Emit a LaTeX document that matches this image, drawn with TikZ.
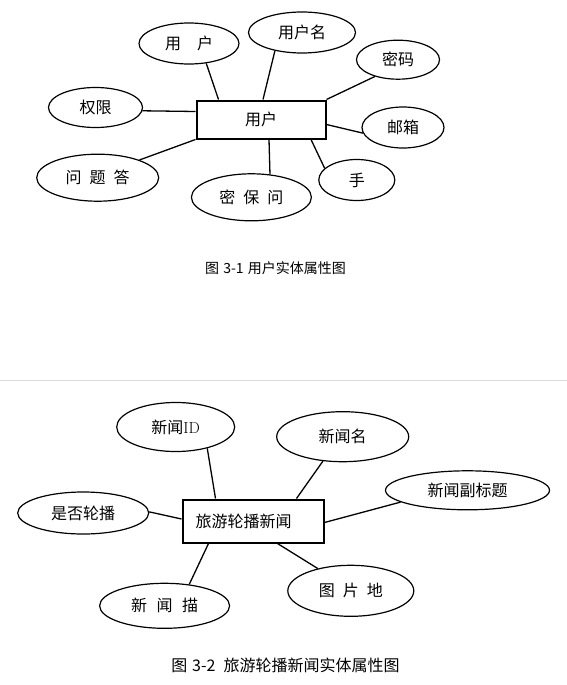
\documentclass[tikz,border=0pt]{standalone}
\usepackage{fontspec}
\usepackage{xcolor}
\usepackage{tikz}
\usetikzlibrary{calc, shapes.geometric, positioning}
\newfontfamily\cjk{Noto Sans CJK SC}
\definecolor{erInk}{HTML}{000000}
\definecolor{erRule}{HTML}{DCDCDC}

\tikzset{
  attrib/.style={ellipse, draw=erInk, line width=1.2pt, inner sep=0pt,
                 font=\cjk\fontsize{16}{19}\selectfont},
  entity/.style={rectangle, draw=erInk, line width=2pt, inner sep=0pt,
                 font=\cjk\fontsize{16}{19}\selectfont},
  link/.style={draw=erInk, line width=1.3pt},
  figcap/.style={font=\cjk\fontsize{14}{16}\selectfont, inner sep=0pt}
}

\begin{document}
\begin{tikzpicture}[x=1pt, y=-1pt]
        \useasboundingbox (0,0) rectangle (567,685);

        % user entity
        \node[entity, minimum width=129pt, minimum height=38pt] (user) at (261,119.5) {用户};
        \node[attrib, minimum width=100pt, minimum height=41pt] (uacc) at (189,43.5) {用\hspace{1em}户};
        \node[attrib, minimum width=107pt, minimum height=41pt] (uname) at (302,32.5) {用户名};
        \node[attrib, minimum width=83pt, minimum height=39pt] (pwd) at (398,59.7) {密码};
        \node[attrib, minimum width=94pt, minimum height=40pt] (perm) at (95.5,107.5) {权限};
        \node[attrib, minimum width=82pt, minimum height=41pt] (mail) at (403,127.5) {邮箱};
        \node[attrib, minimum width=122pt, minimum height=47pt] (answer) at (97.7,177.7) {问\hspace{.5em}题\hspace{.5em}答};
        \node[attrib, minimum width=120pt, minimum height=47pt] (question) at (251.4,197.3) {密\hspace{.5em}保\hspace{.5em}问};
        \node[attrib, minimum width=76pt, minimum height=41pt] (phone) at (356.8,180) {手};

        \draw[link] (uacc.311.5) -- ([xshift=23pt]user.north west);
        \draw[link] (uname.214.3) -- ([xshift=67.5pt]user.north west);
        \draw[link] (pwd.216.9) -- (user.north east);
        \draw[link] (perm.356) -- ([yshift=-12pt]user.north west);
        \draw[link] (mail.188) -- ([yshift=-25pt]user.north east);
        \draw[link] (answer.23.9) -- (user.south west);
        \draw[link] (question.51) -- ([xshift=73.5pt]user.south west);
        \draw[link] (phone.160.9) -- ([xshift=115.5pt]user.south west);

        \node[figcap] (cap1) at (275.5,268.5) {图\hspace{.3em}3-1\hspace{.3em}用户实体属性图};

        \draw[erRule, line width=1pt] (0,380) -- (567,380);

        % carousel news entity
        \node[entity, minimum width=141pt, minimum height=43pt, text width=115pt,
              inner xsep=13pt, align=left] (news) at (253,521) {旅游轮播新闻};
        \node[attrib, minimum width=118pt, minimum height=49pt] (newsid) at (175.7,427) {新闻{\rmfamily ID}};
        \node[attrib, minimum width=132pt, minimum height=50pt] (newsname) at (342.7,436.7) {新闻名};
        \node[attrib, minimum width=164pt, minimum height=39pt] (subtitle) at (467.5,490.3) {新闻副标题};
        \node[attrib, minimum width=131pt, minimum height=42pt] (carousel) at (83.2,513) {是否轮播};
        \node[attrib, minimum width=130pt, minimum height=45pt] (desc) at (164.6,605.8) {新\hspace{.6em}闻\hspace{.6em}描};
        \node[attrib, minimum width=126pt, minimum height=51pt] (pic) at (350.8,590.8) {图\hspace{.5em}片\hspace{.5em}地};

        \draw[link] (newsid.326.4) -- ([xshift=34pt]news.north west);
        \draw[link] (newsname.231.8) -- ([xshift=115pt]news.north west);
        \draw[link] (subtitle.190.1) -- ([yshift=-24pt]news.north east);
        \draw[link] (carousel.1.1) -- ([yshift=-20.5pt]news.north west);
        \draw[link] (desc.41.4) -- ([xshift=27pt]news.south west);
        \draw[link] (pic.146) -- ([xshift=96pt]news.south west);

        \node[figcap, font=\cjk\fontsize{16}{18}\selectfont] (cap2) at (285.5,665) {图\hspace{.3em}3-2\hspace{.5em}旅游轮播新闻实体属性图};
\end{tikzpicture}
\end{document}
